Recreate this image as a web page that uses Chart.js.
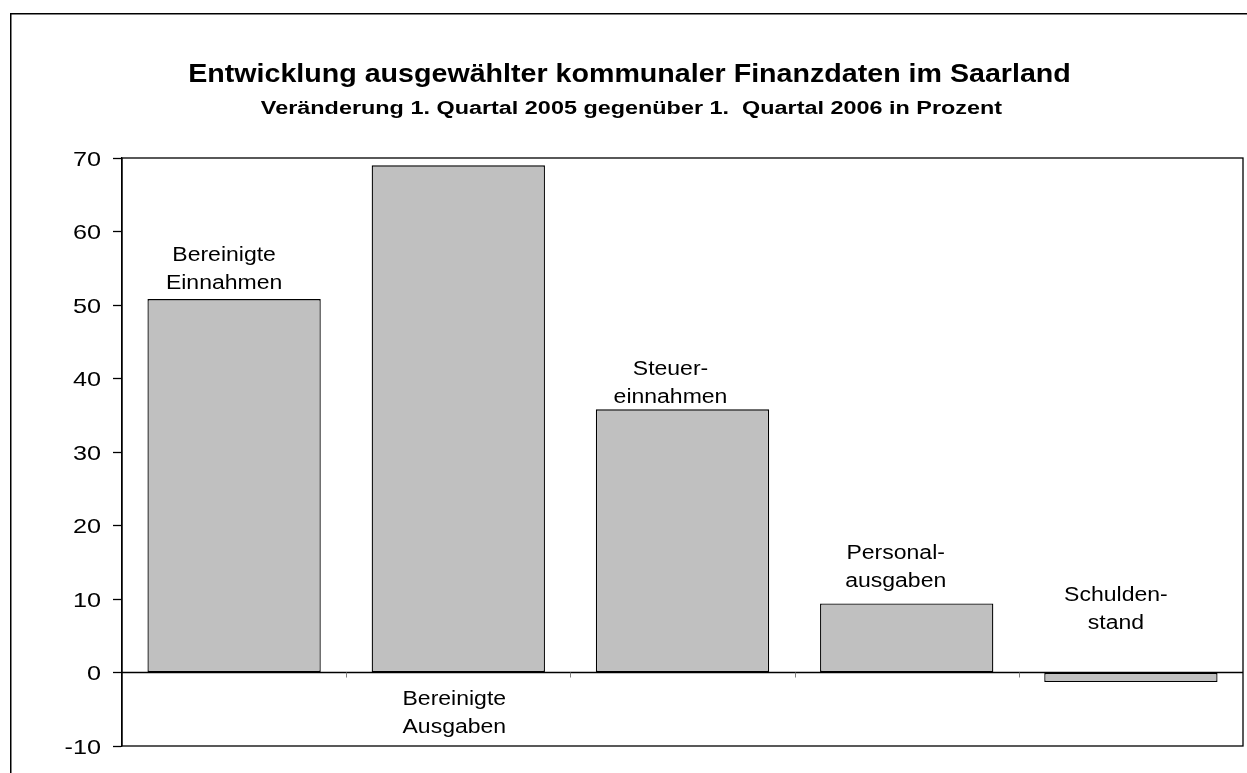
<!DOCTYPE html>
<html>
<head>
<meta charset="utf-8">
<script src="https://cdn.jsdelivr.net/npm/chart.js@4.4.1/dist/chart.umd.min.js"></script>
<style>
  html, body { margin: 0; padding: 0; background: #fff; }
  #wrap { width: 1247px; height: 773px; position: relative; }
</style>
</head>
<body>
<div id="wrap"><canvas id="c" width="1247" height="773"></canvas></div>
<script>
// ---- Data ----
const categories = ['Bereinigte Einnahmen', 'Bereinigte Ausgaben', 'Steuereinnahmen', 'Personalausgaben', 'Schuldenstand'];
const labelLines = [['Bereinigte', 'Einnahmen'], ['Bereinigte', 'Ausgaben'], ['Steuer-', 'einnahmen'], ['Personal-', 'ausgaben'], ['Schulden-', 'stand']];
const values = [50.8, 69.0, 35.8, 9.4, -1.3];
const yMin = -10;
const yMax = 70;
const yStep = 10;
const titleText = 'Entwicklung ausgewählter kommunaler Finanzdaten im Saarland';
const subtitleText = 'Veränderung 1. Quartal 2005 gegenüber 1.  Quartal 2006 in Prozent';

const FONT = '"Liberation Sans", Arial, Helvetica, sans-serif';

function stretchedText(ctx, text, x, y, font, sx, align) {
  ctx.save();
  ctx.font = font;
  ctx.textBaseline = 'alphabetic';
  ctx.textAlign = 'left';
  const w = ctx.measureText(text).width * sx;
  let left = x;
  if (align === 'center') left = x - w / 2;
  else if (align === 'right') left = x - w;
  ctx.translate(left, y);
  ctx.scale(sx, 1);
  ctx.fillStyle = '#000';
  ctx.fillText(text, 0, 0);
  ctx.restore();
}

const framePlugin = {
  id: 'frame',
  beforeDraw(chart) {
    const ctx = chart.ctx;
    ctx.save();
    ctx.fillStyle = '#fff';
    ctx.fillRect(0, 0, chart.width, chart.height);
    ctx.strokeStyle = '#000';
    ctx.lineWidth = 1.5;
    ctx.beginPath();
    ctx.moveTo(10.75, chart.height + 5);
    ctx.lineTo(10.75, 13.75);
    ctx.lineTo(chart.width + 5, 13.75);
    ctx.stroke();
    ctx.restore();
    // titles
    const cx = chart.width / 2 + 6;
    stretchedText(ctx, titleText, cx, 82, 'bold 26.5px ' + FONT, 1.08, 'center');
    stretchedText(ctx, subtitleText, cx + 2, 114, 'bold 18px ' + FONT, 1.30, 'center');
  },
  afterDatasetsDraw(chart, args, opts) {
    const ctx = chart.ctx;
    const a = chart.chartArea;
    const y = chart.scales.y;
    const x = chart.scales.x;
    const zeroY = y.getPixelForValue(0);
    ctx.save();
    // zero line
    ctx.strokeStyle = '#000';
    ctx.lineWidth = 1.3;
    ctx.beginPath();
    ctx.moveTo(a.left, zeroY);
    ctx.lineTo(a.right, zeroY);
    ctx.stroke();
    // category separator ticks at zero line
    ctx.strokeStyle = '#808080';
    ctx.lineWidth = 1;
    for (let i = 0; i < categories.length - 1; i++) {
      const px = Math.round((x.getPixelForValue(i) + x.getPixelForValue(i + 1)) / 2) + 0.5;
      ctx.beginPath();
      ctx.moveTo(px, zeroY);
      ctx.lineTo(px, zeroY + 5);
      ctx.stroke();
    }
    // plot box
    ctx.strokeStyle = '#000';
    ctx.lineWidth = 1.3;
    ctx.strokeRect(a.left, a.top, a.right - a.left, a.bottom - a.top);
    ctx.restore();

    // y tick labels (from the scale's own ticks)
    y.ticks.forEach(t => {
      const py = y.getPixelForValue(t.value);
      stretchedText(ctx, String(t.value), a.left - 21, py + 7.5, '21px ' + FONT, opts.tickSx, 'right');
    });

    // bar labels
    const meta = chart.getDatasetMeta(0);
    const pl = opts.place;
    meta.data.forEach((bar, i) => {
      const p = pl[i];
      const lines = labelLines[i];
      let firstBaseline;
      if (p.ref === 'top') {
        const lastBaseline = bar.y + p.dy;
        firstBaseline = lastBaseline - (lines.length - 1) * opts.lineHeight;
      } else if (p.ref === 'zeroAbove') {
        const lastBaseline = zeroY + p.dy;
        firstBaseline = lastBaseline - (lines.length - 1) * opts.lineHeight;
      } else {
        firstBaseline = zeroY + p.dy;
      }
      lines.forEach((t, k) => {
        stretchedText(ctx, t, bar.x + p.dx, firstBaseline + k * opts.lineHeight, '20px ' + FONT, opts.sx, 'center');
      });
    });
  }
};

new Chart(document.getElementById('c'), {
  type: 'bar',
  data: {
    labels: categories,
    datasets: [{
      data: values,
      backgroundColor: '#c0c0c0',
      borderColor: '#000',
      borderWidth: 1.3,
      borderSkipped: false,
      categoryPercentage: 1.0,
      barPercentage: 0.773
    }]
  },
  options: {
    responsive: false,
    animation: false,
    devicePixelRatio: 1,
    layout: { padding: { left: 0, right: 4, top: 158, bottom: 27 } },
    plugins: {
      legend: { display: false },
      title: { display: false },
      tooltip: { enabled: false },
      frame: {
        sx: 1.15,
        tickSx: 1.2,
        lineHeight: 28,
        place: [
          { ref: 'top', dy: -10, dx: -10 },
          { ref: 'zeroBelow', dy: 32, dx: -4 },
          { ref: 'top', dy: -6, dx: -12 },
          { ref: 'top', dy: -16, dx: -11 },
          { ref: 'zeroAbove', dy: -44, dx: -15 }
        ]
      }
    },
    scales: {
      x: {
        display: false,
        offset: true
      },
      y: {
        min: yMin,
        max: yMax,
        afterFit(scale) { scale.width = 122; },
        ticks: {
          stepSize: yStep,
          display: false
        },
        grid: {
          drawOnChartArea: false,
          tickLength: 9,
          tickColor: '#000',
          tickWidth: 1.3
        },
        border: { display: true, color: '#000', width: 1.3 }
      }
    }
  },
  plugins: [framePlugin]
});
</script>
</body>
</html>
